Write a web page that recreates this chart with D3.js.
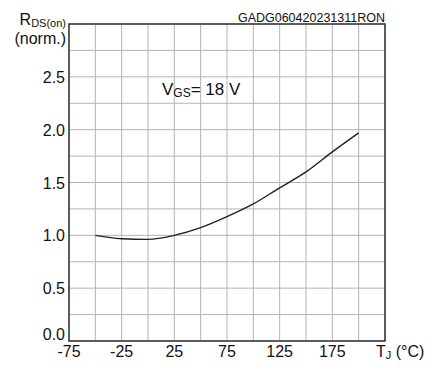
<!DOCTYPE html>
<html><head><meta charset="utf-8">
<script src="https://cdn.jsdelivr.net/npm/d3@7"></script>
<style>body{margin:0;background:#fff}svg{display:block}text{font-family:"Liberation Sans",Arial,sans-serif;fill:#111}</style>
</head><body>
<svg id="c" width="439" height="381"></svg>
<script>
const tempC = [-50, -25, 0, 25, 50, 75, 100, 125, 150, 175, 200];
const rdsNorm = [1.0, 0.968, 0.962, 1.0, 1.073, 1.177, 1.297, 1.45, 1.60, 1.79, 1.97];
const xTickLabels = [-75, -25, 25, 75, 125, 175];
const yTickLabels = [0.0, 0.5, 1.0, 1.5, 2.0, 2.5];
const xGrid = d3.range(-75, 226, 25);
const yGrid = d3.range(0, 3.01, 0.25);

const svg = d3.select("#c");
const L = 69, R = 385, T = 24, B = 341;
const x = d3.scaleLinear().domain([-75, 225]).range([L, R]);
const y = d3.scaleLinear().domain([0, 3]).range([B, T]);

const g = svg.append("g");
g.selectAll(".vx").data(xGrid).join("line")
  .attr("x1", d => x(d)).attr("x2", d => x(d)).attr("y1", T).attr("y2", B)
  .attr("stroke", "#b4b4b4").attr("stroke-width", 1);
g.selectAll(".hy").data(yGrid).join("line")
  .attr("y1", d => y(d)).attr("y2", d => y(d)).attr("x1", L).attr("x2", R)
  .attr("stroke", "#b4b4b4").attr("stroke-width", 1);

// frame
svg.append("rect").attr("x", L).attr("y", T).attr("width", R - L).attr("height", B - T)
  .attr("fill", "none").attr("stroke", "#333").attr("stroke-width", 1.5);

// curve
const line = d3.line().x((d, i) => x(tempC[i])).y(d => y(d)).curve(d3.curveMonotoneX);
svg.append("path").attr("d", line(rdsNorm)).attr("fill", "none")
  .attr("stroke", "#222").attr("stroke-width", 1.4);

// y tick labels
svg.selectAll(".yl").data(yTickLabels).join("text")
  .attr("x", 65).attr("y", d => y(d) + (d === 0 ? -1 : 6))
  .attr("text-anchor", "end").attr("font-size", 16)
  .text(d => d.toFixed(1));

// x tick labels
svg.selectAll(".xl").data(xTickLabels).join("text")
  .attr("x", d => x(d)).attr("y", 357)
  .attr("text-anchor", "middle").attr("font-size", 16)
  .text(d => d);

// x title
const xt = svg.append("text").attr("x", 376).attr("y", 357).attr("font-size", 16);
xt.append("tspan").text("T");
xt.append("tspan").attr("font-size", 11).attr("dy", 2).text("J");
xt.append("tspan").attr("dy", -2).text(" (°C)");

// y title
const yt = svg.append("text").attr("x", 66).attr("y", 25).attr("text-anchor", "end").attr("font-size", 16);
yt.append("tspan").text("R");
yt.append("tspan").attr("font-size", 11).attr("dy", 2).text("DS(on)");
svg.append("text").attr("x", 66).attr("y", 44).attr("text-anchor", "end").attr("font-size", 16).text("(norm.)");

// code label
svg.append("text").attr("x", 385).attr("y", 22).attr("text-anchor", "end").attr("font-size", 12.5).text("GADG060420231311RON");

// annotation
const vt = svg.append("text").attr("x", 162).attr("y", 95).attr("font-size", 17);
vt.append("tspan").text("V");
vt.append("tspan").attr("font-size", 12).attr("dy", 2).text("GS");
vt.append("tspan").attr("dy", -2).text("= 18 V");
</script>
</body></html>
